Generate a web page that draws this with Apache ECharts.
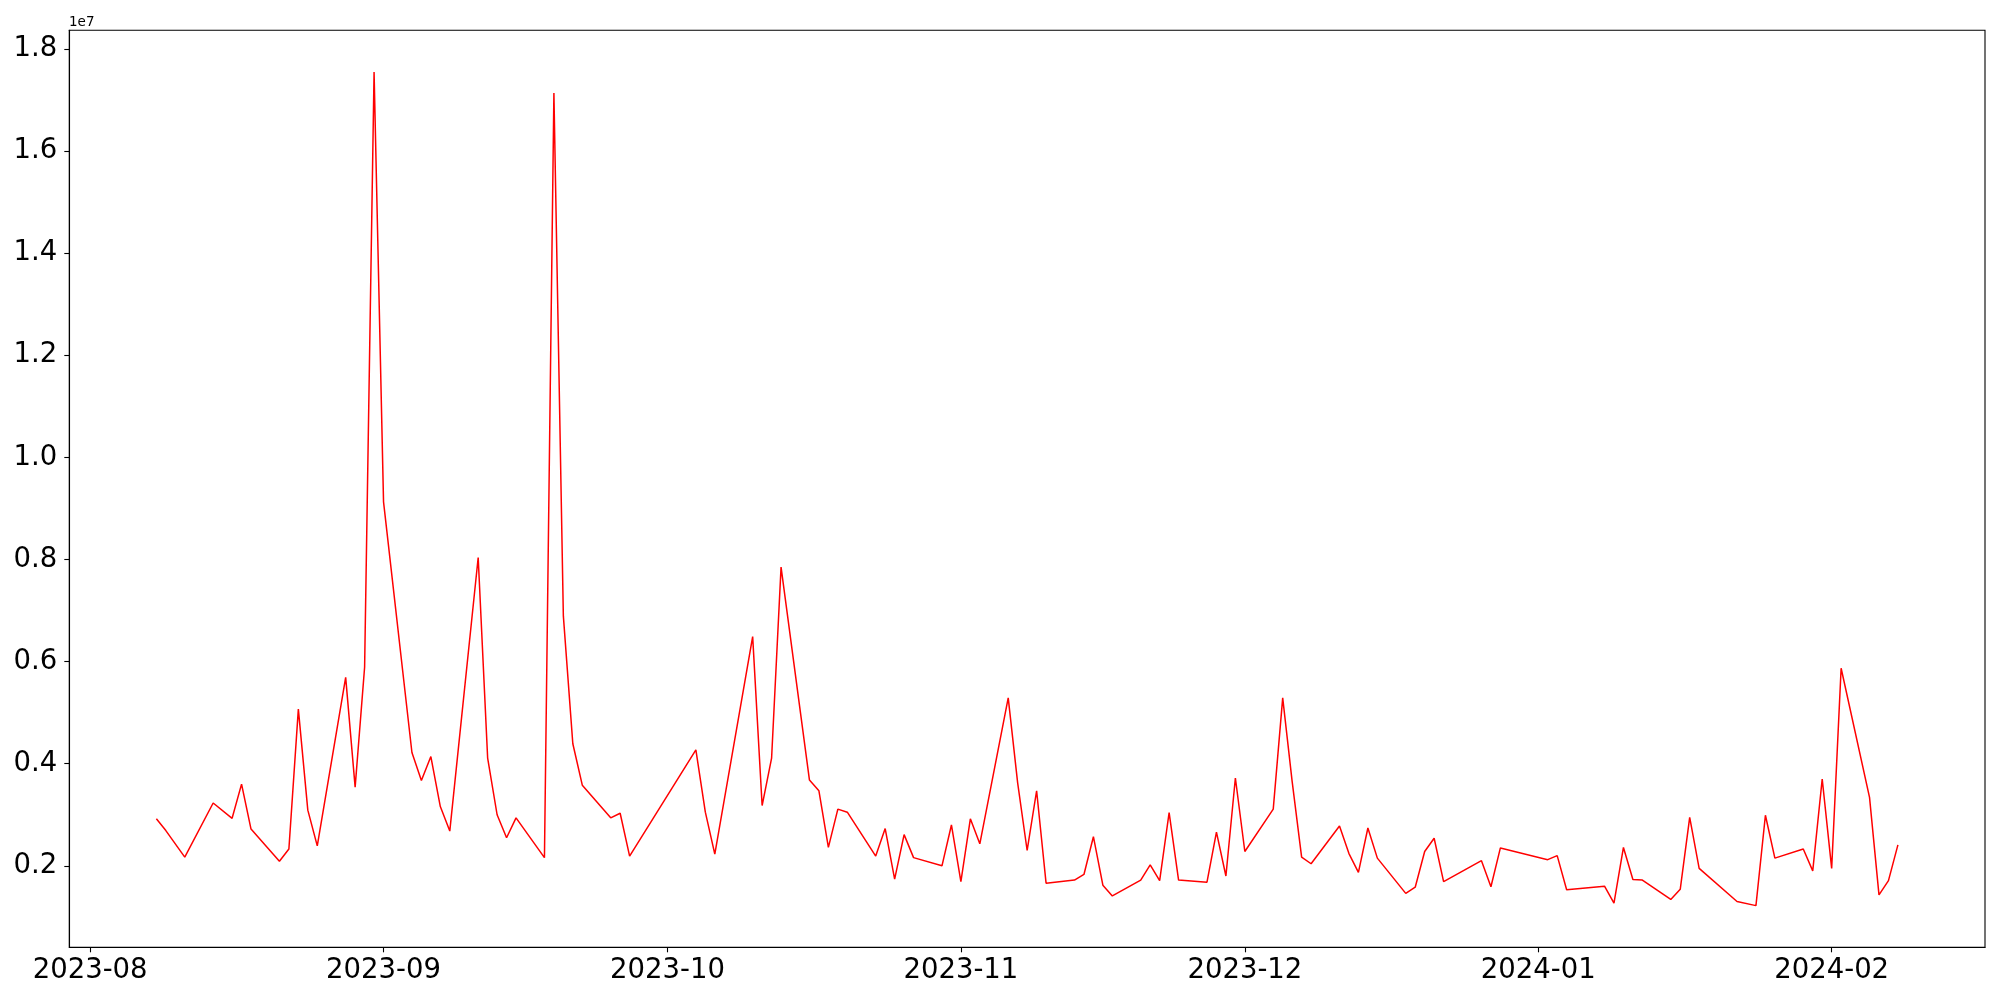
<!DOCTYPE html>
<html>
<head>
<meta charset="utf-8">
<script src="https://cdn.jsdelivr.net/npm/echarts@6/dist/echarts.min.js"></script>
<style>
html,body{margin:0;padding:0;background:#fff;}
#chart{width:2000px;height:1000px;}
</style>
</head>
<body>
<div id="chart"></div>
<script>
const dates = [
 '2023-08-08','2023-08-09','2023-08-11','2023-08-14','2023-08-16','2023-08-17','2023-08-18',
 '2023-08-21','2023-08-22','2023-08-23','2023-08-24','2023-08-25',
 '2023-08-28','2023-08-29','2023-08-30','2023-08-31','2023-09-01',
 '2023-09-04','2023-09-05','2023-09-06','2023-09-07','2023-09-08',
 '2023-09-11','2023-09-12','2023-09-13','2023-09-14','2023-09-15',
 '2023-09-18','2023-09-19','2023-09-20','2023-09-21','2023-09-22',
 '2023-09-25','2023-09-26','2023-09-27',
 '2023-10-04','2023-10-05','2023-10-06',
 '2023-10-10','2023-10-11','2023-10-12','2023-10-13',
 '2023-10-16','2023-10-17','2023-10-18','2023-10-19','2023-10-20',
 '2023-10-23','2023-10-24','2023-10-25','2023-10-26','2023-10-27',
 '2023-10-30','2023-10-31','2023-11-01','2023-11-02','2023-11-03',
 '2023-11-06','2023-11-07','2023-11-08','2023-11-09','2023-11-10',
 '2023-11-13','2023-11-14','2023-11-15','2023-11-16','2023-11-17',
 '2023-11-20','2023-11-21','2023-11-22','2023-11-23','2023-11-24',
 '2023-11-27','2023-11-28','2023-11-29','2023-11-30','2023-12-01',
 '2023-12-04','2023-12-05','2023-12-06','2023-12-07','2023-12-08',
 '2023-12-11','2023-12-12','2023-12-13','2023-12-14','2023-12-15',
 '2023-12-18','2023-12-19','2023-12-20','2023-12-21','2023-12-22',
 '2023-12-26','2023-12-27','2023-12-28',
 '2024-01-02','2024-01-03','2024-01-04',
 '2024-01-08','2024-01-09','2024-01-10','2024-01-11','2024-01-12',
 '2024-01-15','2024-01-16','2024-01-17','2024-01-18',
 '2024-01-22','2024-01-24','2024-01-25','2024-01-26',
 '2024-01-29','2024-01-30','2024-01-31','2024-02-01','2024-02-02',
 '2024-02-05','2024-02-06','2024-02-07','2024-02-08'
];
const values = [
 2.92e6,2.69e6,2.17e6,3.23e6,2.93e6,3.60e6,2.72e6,
 2.09e6,2.33e6,5.07e6,3.09e6,2.39e6,
 5.69e6,3.54e6,5.89e6,17.55e6,9.13e6,
 4.22e6,3.67e6,4.14e6,3.16e6,2.68e6,
 8.04e6,4.11e6,3.00e6,2.55e6,2.94e6,
 2.16e6,17.14e6,6.89e6,4.39e6,3.58e6,
 2.94e6,3.03e6,2.19e6,
 4.27e6,3.05e6,2.23e6,
 6.49e6,3.18e6,4.11e6,7.85e6,
 3.68e6,3.47e6,2.36e6,3.11e6,3.05e6,
 2.19e6,2.73e6,1.74e6,2.61e6,2.16e6,
 2.00e6,2.80e6,1.69e6,2.92e6,2.43e6,
 5.29e6,3.62e6,2.30e6,3.47e6,1.66e6,
 1.72e6,1.83e6,2.57e6,1.62e6,1.41e6,
 1.72e6,2.02e6,1.71e6,3.04e6,1.72e6,
 1.68e6,2.66e6,1.80e6,3.72e6,2.28e6,
 3.11e6,5.29e6,3.65e6,2.17e6,2.04e6,
 2.78e6,2.24e6,1.87e6,2.74e6,2.15e6,
 1.46e6,1.58e6,2.28e6,2.54e6,1.69e6,
 2.10e6,1.59e6,2.35e6,
 2.12e6,2.20e6,1.53e6,
 1.60e6,1.27e6,2.36e6,1.73e6,1.72e6,
 1.34e6,1.54e6,2.95e6,1.95e6,
 1.30e6,1.22e6,2.99e6,2.15e6,
 2.33e6,1.90e6,3.70e6,1.95e6,5.87e6,
 3.34e6,1.43e6,1.71e6,2.41e6
];
const xTickLabels = ['2023-08','2023-09','2023-10','2023-11','2023-12','2024-01','2024-02'];
const yTickValues = [0.2e7,0.4e7,0.6e7,0.8e7,1.0e7,1.2e7,1.4e7,1.6e7,1.8e7];
const yScaleLabel = '1e7';

function ts(s){
  const p = s.split('-').map(Number);
  return Date.UTC(p[0], p[1]-1, p[2] || 1);
}
const xs = dates.map(ts);
const xMinD = Math.min(...xs), xMaxD = Math.max(...xs);
const xPad = (xMaxD - xMinD) * 0.05;
const yMinD = Math.min(...values), yMaxD = Math.max(...values);
const yPad = (yMaxD - yMinD) * 0.05;
const xTickVals = xTickLabels.map(ts);
const seriesData = xs.map((x,i)=>[x, values[i]]);
const FONT = 'DejaVu Sans';

const chart = echarts.init(document.getElementById('chart'), null, {renderer:'canvas'});
chart.setOption({
  animation:false,
  backgroundColor:'#fff',
  grid:{left:69.3, right:15, top:30.3, bottom:52.7, show:true, borderColor:'#000', borderWidth:1.1, backgroundColor:'transparent'},
  xAxis:{
    type:'value',
    min:xMinD - xPad, max:xMaxD + xPad,
    axisLine:{show:true, onZero:false, lineStyle:{color:'#000', width:1.1}},
    axisTick:{show:true, length:5, lineStyle:{color:'#000', width:1.1}, customValues:xTickVals},
    axisLabel:{show:true, customValues:xTickVals, margin:10, color:'#000', fontFamily:FONT, fontSize:27.5,
      formatter:function(v){ const d=new Date(v); return d.getUTCFullYear()+'-'+String(d.getUTCMonth()+1).padStart(2,'0'); }},
    splitLine:{show:false}
  },
  yAxis:{
    type:'value',
    min:yMinD - yPad, max:yMaxD + yPad,
    axisLine:{show:true, onZero:false, lineStyle:{color:'#000', width:1.1}},
    axisTick:{show:true, length:5, lineStyle:{color:'#000', width:1.1}, customValues:yTickValues},
    axisLabel:{show:true, customValues:yTickValues, margin:12, color:'#000', fontFamily:FONT, fontSize:27.5,
      formatter:function(v){ return (v/1e7).toFixed(1); }},
    splitLine:{show:false}
  },
  graphic:[{type:'text', left:69, top:15, style:{text:yScaleLabel, fontFamily:FONT, fontSize:13.5, fill:'#000'}}],
  series:[{
    type:'line', data:seriesData, showSymbol:false, symbol:'none',
    lineStyle:{color:'#ff0000', width:1.5}, itemStyle:{color:'#ff0000'}
  }]
});
</script>
</body>
</html>
